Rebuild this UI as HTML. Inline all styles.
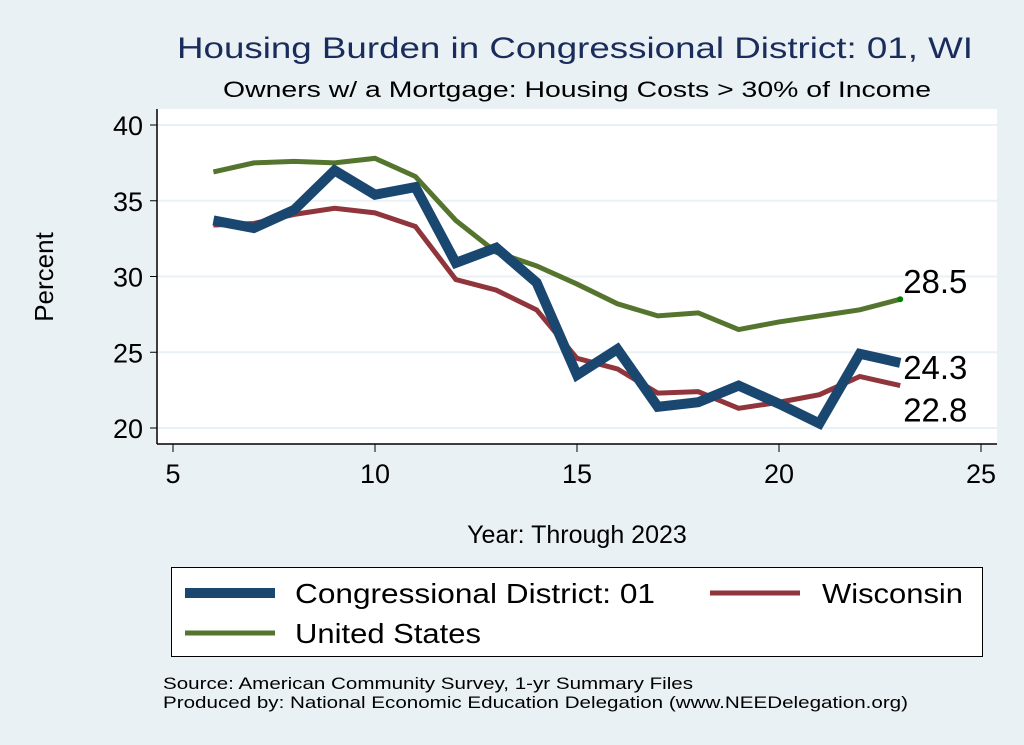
<!DOCTYPE html>
<html><head><meta charset="utf-8"><style>
html,body{margin:0;padding:0;background:#eaf1f4;}
svg{display:block;font-family:"Liberation Sans",Arial,sans-serif;}
</style></head><body>
<svg id="chart" width="1024" height="745" viewBox="0 0 1024 745">
<rect x="0" y="0" width="1024" height="745" fill="#eaf1f4"/>
<text x="575" y="58" text-anchor="middle" font-size="30" fill="#1a2c5b" textLength="796" lengthAdjust="spacingAndGlyphs">Housing Burden in Congressional District:  01, WI</text>
<text x="577" y="97" text-anchor="middle" font-size="22" fill="#000" textLength="708" lengthAdjust="spacingAndGlyphs">Owners w/ a Mortgage: Housing Costs &gt; 30% of Income</text>
<rect x="157" y="109" width="840" height="335" fill="#fff"/>
<g id="grid"></g>
<g id="axes"></g>
<g id="series"></g>
<text transform="translate(53,277) rotate(-90)" text-anchor="middle" font-size="26">Percent</text>
<text x="577" y="543" text-anchor="middle" font-size="25">Year: Through 2023</text>
<g>
<rect x="171.5" y="567.5" width="811" height="89" fill="#fff" stroke="#000" stroke-width="1"/>
<line x1="185" y1="593" x2="275" y2="593" stroke="#1a476f" stroke-width="10"/>
<text x="295" y="603" font-size="28" textLength="360" lengthAdjust="spacingAndGlyphs">Congressional District:  01</text>
<line x1="710" y1="593" x2="800" y2="593" stroke="#90353b" stroke-width="5"/>
<text x="822" y="603" font-size="28" textLength="141" lengthAdjust="spacingAndGlyphs">Wisconsin</text>
<line x1="185" y1="633" x2="275" y2="633" stroke="#55752f" stroke-width="5"/>
<text x="295" y="643" font-size="28" textLength="186" lengthAdjust="spacingAndGlyphs">United States</text>
</g>
<text x="163" y="689" font-size="17" textLength="530" lengthAdjust="spacingAndGlyphs">Source: American Community Survey, 1-yr Summary Files</text>
<text x="163" y="708" font-size="17" textLength="745" lengthAdjust="spacingAndGlyphs">Produced by: National Economic Education Delegation (www.NEEDelegation.org)</text>
</svg>
<script>
const years = [6,7,8,9,10,11,12,13,14,15,16,17,18,19,20,21,22,23];
const districtValues = [33.7,33.2,34.4,37.0,35.4,35.9,30.9,31.9,29.6,23.5,25.2,21.4,21.7,22.8,21.6,20.3,24.9,24.3];
const wisconsinValues = [33.4,33.5,34.1,34.5,34.2,33.3,29.8,29.1,27.8,24.6,23.9,22.3,22.4,21.3,21.7,22.2,23.4,22.8];
const usValues = [36.9,37.5,37.6,37.5,37.8,36.6,33.7,31.6,30.7,29.5,28.2,27.4,27.6,26.5,27.0,27.4,27.8,28.5];
const xTicks = [5,10,15,20,25];
const yTicks = [20,25,30,35,40];

const NS = "http://www.w3.org/2000/svg";
function xs(v){ return 173 + (v-5)*(981-173)/20; }
function ys(v){ return 428 - (v-20)*(428-125)/20; }
function mk(tag, attrs, parent){
  const e = document.createElementNS(NS, tag);
  for (const k in attrs) e.setAttribute(k, attrs[k]);
  parent.appendChild(e); return e;
}
const grid = document.getElementById('grid');
const axes = document.getElementById('axes');
const series = document.getElementById('series');

yTicks.forEach(t => {
  const g = mk('line', {x1:157, x2:997, y1:ys(t), y2:ys(t), stroke:'#eaf1f4', 'stroke-width':2}, grid);
  
  
  const tk = mk('line', {x1:150, x2:157, y1:ys(t), y2:ys(t), stroke:'#000', 'stroke-width':1}, axes);
  
  
  const lb = mk('text', {x:143, y:ys(t)+10, 'text-anchor':'end', 'font-size':27}, axes);
  lb.textContent = t;
  
  
});
mk('line', {x1:157, x2:157, y1:109, y2:444, stroke:'#000', 'stroke-width':1.5}, axes);
mk('line', {x1:157, x2:997, y1:444, y2:444, stroke:'#000', 'stroke-width':1.5}, axes);
xTicks.forEach(t => {
  const tk = mk('line', {x1:xs(t), x2:xs(t), y1:444, y2:452, stroke:'#000', 'stroke-width':1}, axes);
  
  
  const lb = mk('text', {x:xs(t), y:483, 'text-anchor':'middle', 'font-size':27}, axes);
  lb.textContent = t;
  
  
});

function drawLine(vals, color, w, name){
  const pts = years.map((y,i) => xs(y)+','+ys(vals[i])).join(' ');
  const p = mk('polyline', {points:pts, fill:'none', stroke:color, 'stroke-width':w, 'stroke-linejoin':'miter', 'stroke-miterlimit':3}, series);
  
  
}
drawLine(usValues, '#55752f', 5, 'line-united-states');
drawLine(wisconsinValues, '#90353b', 5, 'line-wisconsin');
drawLine(districtValues, '#1a476f', 10, 'line-district');

const last = years.length - 1;
const dot = mk('circle', {cx:xs(years[last]), cy:ys(usValues[last]), r:3, fill:'#008000'}, series);


function endLabel(v, dy, name){
  const t = mk('text', {x:xs(years[last])+3, y:ys(v)+dy, 'font-size':33}, series);
  t.textContent = v.toFixed(1);
  
  
}
endLabel(usValues[last], -6, 'end-label-us');
endLabel(districtValues[last], 16, 'end-label-district');
endLabel(wisconsinValues[last], 36, 'end-label-wisconsin');
</script>
</body></html>
